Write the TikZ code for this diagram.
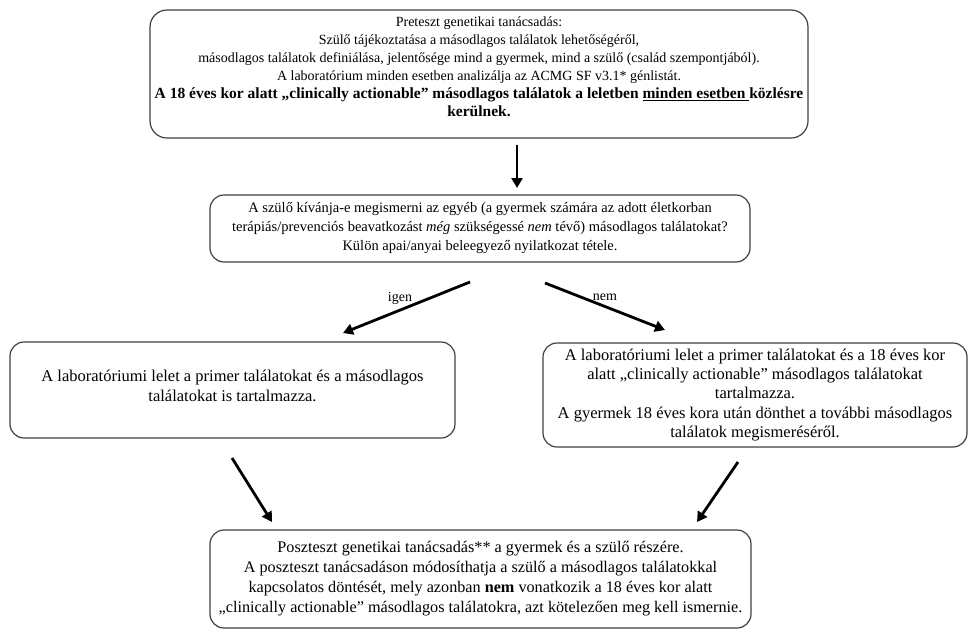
\documentclass[tikz,border=0pt]{standalone}
\usepackage{fontspec}
\setmainfont{Liberation Serif}
\usetikzlibrary{arrows.meta}
\begin{document}
\begin{tikzpicture}[x=1pt,y=-1pt,
  box/.style={draw=black!75, line width=1.2pt, rounded corners=14pt, align=center, inner sep=0pt},
  arr/.style={line width=2.8pt, -{Triangle[length=10pt,width=11pt]}},
  lbl/.style={font=\fontsize{14}{16}\selectfont, inner sep=0pt}]
\useasboundingbox (0,0) rectangle (968,630);
\node[box, rounded corners=17pt, minimum width=658pt, minimum height=128pt, font=\fontsize{14}{18}\selectfont] (pre) at (479,74)
 {Preteszt genetikai tanácsadás:\\
  Szülő tájékoztatása a másodlagos találatok lehetőségéről,\\
  másodlagos találatok definiálása, jelentősége mind a gyermek, mind a szülő (család szempontjából).\\
  A laboratórium minden esetben analizálja az ACMG SF v3.1* génlistát.\\
  {\fontsize{15.5}{18}\selectfont\bfseries A 18 éves kor alatt „clinically actionable” másodlagos találatok a leletben \underline{minden esetben\ }közlésre}\\
  {\fontsize{15.5}{18}\selectfont\bfseries kerülnek.}\rule[-14pt]{0pt}{0pt}};
\node[box, minimum width=540pt, minimum height=67pt, font=\fontsize{14.5}{19}\selectfont] (q) at (480,228.5)
 {A szülő kívánja-e megismerni az egyéb (a gyermek számára az adott életkorban\\
  terápiás/prevenciós beavatkozást \textit{még} szükségessé \textit{nem} tévő) másodlagos találatokat?\\
  Külön apai/anyai beleegyező nyilatkozat tétele.};
\node[box, minimum width=445pt, minimum height=96pt, font=\fontsize{16.5}{20}\selectfont] (yes) at (232.5,390)
 {A laboratóriumi lelet a primer találatokat és a másodlagos\\
  találatokat is tartalmazza.\rule[-8pt]{0pt}{0pt}};
\node[box, minimum width=424pt, minimum height=104pt, font=\fontsize{16.5}{19.3}\selectfont] (no) at (755,395)
 {A laboratóriumi lelet a primer találatokat és a 18 éves kor\\
  alatt „clinically actionable” másodlagos találatokat\\
  tartalmazza.\\
  A gyermek 18 éves kora után dönthet a további másodlagos\\
  találatok megismeréséről.};
\node[box, minimum width=541pt, minimum height=98pt, font=\fontsize{16.2}{20}\selectfont] (post) at (480.5,579)
 {Poszteszt genetikai tanácsadás** a gyermek és a szülő részére.\\
  A poszteszt tanácsadáson módosíthatja a szülő a másodlagos találatokkal\\
  kapcsolatos döntését, mely azonban \textbf{nem} vonatkozik a 18 éves kor alatt\\
  „clinically actionable” másodlagos találatokra, azt kötelezően meg kell ismernie.};
\coordinate (a1s) at (517,145); \coordinate (a1e) at (517,188);
\coordinate (igs) at (470,282); \coordinate (ige) at (343,333);
\coordinate (nms) at (545,283); \coordinate (nme) at (665,330);
\coordinate (lbs) at (232,458); \coordinate (lbe) at (272,522);
\coordinate (rbs) at (738,462); \coordinate (rbe) at (697,522);
\draw[arr] (a1s) -- (a1e);
\draw[arr] (igs) -- (ige);
\draw[arr] (nms) -- (nme);
\draw[arr] (lbs) -- (lbe);
\draw[arr] (rbs) -- (rbe);
\node[lbl] (ligen) at (400,298) {igen};
\node[lbl] (lnem) at (605,297) {nem};
\end{tikzpicture}
\end{document}
